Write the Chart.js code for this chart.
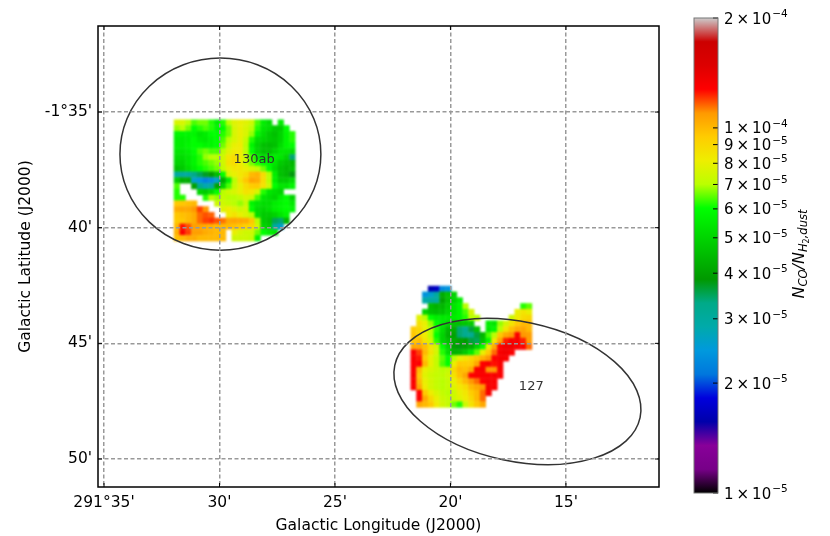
<!DOCTYPE html>
<html>
<head>
<meta charset="utf-8">
<style>
  html, body { margin: 0; padding: 0; background: #fff; }
  #map { position: absolute; left: 0; top: 0; }
  #bar { position: absolute; left: 680px; top: 0; }
</style>
<script src="https://cdn.jsdelivr.net/npm/chart.js@4"></script>
</head>
<body>
<canvas id="map" width="830" height="536"></canvas>
<canvas id="bar" width="150" height="536"></canvas>
<script>
// Axis ticks (minutes of arc: longitude 291 deg + x, latitude -1 deg - y)
const lonTicks = [35, 30, 25, 20, 15];
const lonLabels = ["291°35'", "30'", "25'", "20'", "15'"];
const latTicks = [35, 40, 45, 50];
const latLabels = ["-1°35'", "40'", "45'", "50'"];

// Colorbar ticks, in units of 1e-5
const barTicks = [1, 2, 3, 4, 5, 6, 7, 8, 9, 10, 20];
const barMantissa = ['1', '2', '3', '4', '5', '6', '7', '8', '9', '1', '2'];
const barExponent = ['−5', '−5', '−5', '−5', '−5', '−5', '−5', '−5', '−5', '−4', '−4'];

// Colormap stops
const cmapPos = [0, .05, .1, .15, .2, .25, .3, .35, .4, .45, .5, .55, .6, .65, .7, .75, .8, .85, .9, .95, 1];
const cmapRed = [0, 119, 136, 0, 0, 0, 0, 0, 0, 0, 0, 0, 0, 187, 238, 255, 255, 255, 221, 204, 204];
const cmapGreen = [0, 0, 0, 0, 0, 119, 153, 170, 170, 153, 187, 221, 255, 255, 238, 204, 153, 0, 0, 0, 204];
const cmapBlue = [0, 136, 153, 170, 221, 221, 221, 170, 136, 0, 0, 0, 0, 0, 0, 0, 0, 0, 0, 0, 204];

// Regions and their labels
const regionNames = ['130ab', '127'];
const regionLon = [29.96, 17.1];
const regionLat = [36.82, 47.08];
const regionMajor = [4.35, 5.43];
const regionMinor = [4.16, 3.02];
const regionTilt = [0, 12];
const labelLon = [28.5, 16.5];
const labelLat = [37.05, 46.85];

// N_CO/N_H2 per map pixel, in units of 1e-5
const cellSize = 0.25;
const northLon = 31.97;
const northLat = 35.33;
const northRows = [
    [7.6,7.6,7.0,6.4,6.6,6.6,6.2,5.6,6.2,7.0,7.8,8.0,7.8,7.4,6.4,5.6,5.2,null,5.6,null,null],
    [6.8,7.0,6.6,6.0,6.2,6.4,6.2,5.8,6.0,6.6,7.6,8.0,7.6,7.0,6.2,5.4,5.2,4.8,4.8,6.0,null],
    [5.8,5.8,5.8,5.8,5.4,5.6,6.0,6.0,6.2,6.6,7.6,8.0,7.6,6.8,5.8,5.2,4.8,4.6,5.0,5.8,6.2],
    [5.6,5.6,5.7,6.0,5.6,5.5,5.8,6.0,6.4,7.0,7.6,8.0,7.2,6.2,5.2,5.0,4.8,4.7,5.0,5.8,6.2],
    [5.6,5.6,5.8,6.0,6.0,5.8,5.8,6.0,6.6,7.4,8.0,8.2,7.0,5.8,5.0,4.6,4.5,4.6,5.2,5.8,6.0],
    [5.4,5.4,5.6,6.0,6.4,6.6,6.4,6.4,7.0,7.8,8.2,8.2,7.0,6.0,5.0,4.6,4.6,5.0,5.4,5.4,5.2],
    [5.2,5.2,5.4,5.8,6.2,6.8,7.0,7.0,7.4,8.4,8.8,8.2,7.2,6.4,5.6,5.2,5.4,5.6,5.4,5.0,3.4],
    [5.0,5.0,5.4,5.8,6.2,6.4,6.6,6.8,7.4,8.6,8.8,8.2,7.4,6.6,6.2,6.0,5.8,5.4,4.8,4.6,4.4],
    [4.6,4.8,5.2,5.6,6.0,6.2,6.4,6.6,7.2,8.0,8.4,8.4,8.0,7.6,7.2,6.6,6.0,5.2,4.6,4.4,4.6],
    [3.0,3.0,3.0,3.3,3.5,3.7,3.9,4.5,6.0,7.6,8.0,8.4,8.8,10.0,10.2,8.8,7.0,5.6,4.6,4.4,3.8],
    [4.8,4.2,4.2,2.6,2.4,2.2,2.3,2.6,4.2,5.6,7.0,8.6,9.6,10.6,10.4,8.8,7.0,5.6,4.8,4.8,5.2],
    [6.4,null,null,4.0,3.2,2.8,3.0,4.0,5.0,6.4,7.2,8.0,8.8,9.4,9.5,8.6,7.4,6.0,5.4,5.4,5.8],
    [6.2,null,null,null,5.0,4.8,5.2,6.0,7.0,7.4,7.6,8.0,8.6,8.4,7.6,6.2,5.4,5.2,5.0,null,null],
    [6.2,6.2,null,null,null,6.2,7.0,6.8,7.2,7.0,7.0,7.2,7.6,7.4,6.4,5.4,5.2,5.0,5.6,6.0,5.0],
    [9.5,9.6,9.8,10.0,null,null,null,7.4,7.4,7.2,7.0,6.8,7.2,5.8,5.4,5.2,5.2,5.6,5.8,6.0,5.5],
    [10.4,10.5,10.5,11.0,12.0,11.0,null,null,7.8,8.2,7.8,7.4,7.6,6.0,5.2,5.0,5.2,5.6,5.8,6.0,5.8],
    [9.6,9.8,10.0,10.4,11.5,11.8,11.6,null,null,8.2,8.6,8.0,7.6,7.0,5.2,4.8,4.8,5.0,5.4,5.8,null],
    [9.5,9.6,10.0,10.4,11.5,12.0,12.2,11.8,11.4,10.5,10.6,10.5,10.4,9.6,7.0,4.8,4.6,3.5,3.4,4.4,null],
    [10.0,12.6,11.8,10.8,10.6,10.4,10.2,10.0,10.0,10.0,9.8,9.6,9.2,9.0,7.5,5.0,4.8,3.0,2.6,null,null],
    [10.2,13.0,12.0,10.8,10.8,10.4,10.2,10.0,10.0,null,8.0,7.6,7.4,7.4,6.6,6.0,5.6,5.4,null,null,null],
    [9.8,10.0,10.4,10.4,10.0,10.0,10.0,10.0,10.0,null,7.4,7.4,7.4,7.2,5.8,null,null,null,null,null,null]
];
const southLon = 21.72;
const southLat = 42.52;
const southRows = [
    [null,null,null,1.6,1.7,2.3,2.4,null,null,null,null,null,null,null,null,null,null,null,null,null,null],
    [null,null,2.4,2.6,3.0,4.2,4.6,5.0,null,null,null,null,null,null,null,null,null,null,null,null,null],
    [null,null,2.9,3.0,3.0,4.0,4.6,5.0,5.6,null,null,null,null,null,null,null,null,null,null,null,null],
    [null,null,null,4.5,4.3,4.4,4.8,5.4,5.8,7.0,null,null,null,null,null,null,null,null,null,6.2,6.5],
    [null,null,5.0,4.6,4.5,4.6,5.0,5.4,5.8,6.4,7.5,null,null,null,null,null,null,null,8.0,8.5,8.0],
    [null,7.8,7.0,6.0,5.6,5.5,5.5,5.6,5.8,6.2,7.0,7.0,null,null,null,null,null,7.4,8.2,8.8,9.0],
    [null,8.6,8.0,6.8,6.0,5.4,5.0,4.6,4.6,4.7,4.8,null,null,5.6,5.4,6.8,7.5,8.5,9.5,10.0,10.0],
    [9.4,9.0,8.0,7.0,6.2,5.2,4.4,4.2,3.4,3.2,3.6,4.6,null,5.5,5.8,7.0,8.5,9.8,10.5,10.6,10.0],
    [9.6,9.0,8.2,7.0,6.0,5.0,4.3,4.0,3.4,3.2,3.2,3.6,4.4,6.4,7.0,9.6,10.5,11.0,13.0,11.0,10.8],
    [9.6,9.8,8.5,7.5,6.2,5.0,4.6,4.2,4.0,3.9,3.6,3.5,4.6,5.8,8.4,10.6,12.4,13.2,13.2,12.4,10.8],
    [10.5,10.5,9.8,8.5,7.5,6.0,5.0,4.0,3.8,4.0,4.2,5.0,6.0,8.0,10.5,12.8,13.5,13.5,13.0,12.8,11.5],
    [13.0,12.0,10.0,8.5,7.5,6.2,5.2,4.3,4.4,4.8,5.5,6.5,8.0,9.5,11.5,13.2,13.5,13.0,null,null,null],
    [13.0,12.5,9.5,8.0,7.2,6.5,6.0,7.0,8.0,8.5,9.0,9.6,10.2,11.0,12.8,13.2,13.0,null,null,null,null],
    [12.8,13.0,10.0,8.0,7.2,6.4,6.0,8.2,9.5,9.4,9.5,10.5,12.8,13.2,12.6,13.0,null,null,null,null,null],
    [13.0,10.0,8.0,7.6,7.3,7.0,7.2,9.0,10.0,9.8,10.5,13.0,13.2,11.0,11.0,13.0,null,null,null,null,null],
    [13.2,9.6,7.8,7.4,7.2,7.1,7.4,8.6,9.8,10.6,12.8,13.0,13.0,13.0,13.2,13.0,null,null,null,null,null],
    [13.0,10.0,8.0,7.5,7.2,7.0,7.2,8.0,9.0,10.0,11.0,11.5,12.8,13.2,13.0,null,null,null,null,null,null],
    [13.0,10.5,8.2,7.5,7.2,7.0,7.2,7.8,8.4,8.8,10.0,10.5,11.0,13.3,13.0,null,null,null,null,null,null],
    [null,12.8,9.5,8.2,7.6,7.2,7.0,7.4,8.0,8.4,9.4,10.0,11.5,13.2,null,null,null,null,null,null,null],
    [null,13.0,10.5,9.0,8.0,7.4,7.2,7.4,7.8,8.2,9.0,10.0,11.5,null,null,null,null,null,null,null,null],
    [null,10.5,10.0,9.5,8.2,7.5,7.2,6.6,6.2,7.4,8.6,9.6,10.5,null,null,null,null,null,null,null,null]
];

const font = 'DejaVu Sans';

// log scale from 1e-5 to 2e-4 onto the colormap
function cellColor(v) {
    const t = Math.log(v) / Math.log(20);
    let i = 0;
    while (i < cmapPos.length - 2 && t > cmapPos[i + 1]) i++;
    const f = (t - cmapPos[i]) / (cmapPos[i + 1] - cmapPos[i]);
    const r = cmapRed[i] + (cmapRed[i + 1] - cmapRed[i]) * f;
    const g = cmapGreen[i] + (cmapGreen[i + 1] - cmapGreen[i]) * f;
    const b = cmapBlue[i] + (cmapBlue[i + 1] - cmapBlue[i]) * f;
    return `rgb(${Math.round(r)},${Math.round(g)},${Math.round(b)})`;
}

function cellsFrom(rows, lon, lat) {
    const cells = [];
    rows.forEach((row, j) => {
        row.forEach((v, i) => {
            if (v !== null) {
                cells.push({ x: lon - (i + 0.5) * cellSize, y: lat + (j + 0.5) * cellSize, v: v });
            }
        });
    });
    return cells;
}

function cellDataset(rows, lon, lat) {
    return {
        data: cellsFrom(rows, lon, lat),
        pointStyle: 'rect',
        borderWidth: 0,
        backgroundColor: ctx => cellColor(ctx.raw.v),
        pointRadius: ctx => {
            const s = ctx.chart.scales.x;
            return Math.abs(s.getPixelForValue(0) - s.getPixelForValue(cellSize)) / Math.SQRT2 + 0.3;
        }
    };
}

// the map image is interpolated in the original, so soften the drawn cells
const smoothCells = {
    id: 'smoothCells',
    afterDatasetsDraw(chart) {
        const c = chart.ctx, a = chart.chartArea;
        const copy = document.createElement('canvas');
        copy.width = chart.width;
        copy.height = chart.height;
        copy.getContext('2d').drawImage(chart.canvas, 0, 0);
        c.save();
        c.beginPath();
        c.rect(a.left, a.top, a.right - a.left, a.bottom - a.top);
        c.clip();
        c.clearRect(a.left, a.top, a.right - a.left, a.bottom - a.top);
        c.filter = 'blur(0.8px)';
        c.drawImage(copy, 0, 0);
        c.restore();
    }
};

// short ticks pointing into the frame, then the frame itself
const mapFrame = {
    id: 'mapFrame',
    afterDraw(chart) {
        const c = chart.ctx, a = chart.chartArea;
        c.save();
        c.strokeStyle = '#000';
        c.lineWidth = 1;
        c.beginPath();
        chart.scales.x.ticks.forEach(t => {
            const p = chart.scales.x.getPixelForValue(t.value);
            c.moveTo(p, a.bottom); c.lineTo(p, a.bottom - 4);
            c.moveTo(p, a.top); c.lineTo(p, a.top + 4);
        });
        chart.scales.y.ticks.forEach(t => {
            const p = chart.scales.y.getPixelForValue(t.value);
            c.moveTo(a.left, p); c.lineTo(a.left + 4, p);
            c.moveTo(a.right, p); c.lineTo(a.right - 4, p);
        });
        c.stroke();
        c.lineWidth = 1.5;
        c.strokeRect(a.left, a.top, a.right - a.left, a.bottom - a.top);
        c.restore();
    }
};

// region outlines and names, placed through the scales
const regions = {
    id: 'regions',
    afterDatasetsDraw(chart) {
        const c = chart.ctx, sx = chart.scales.x, sy = chart.scales.y;
        const pxPerMin = Math.abs(sx.getPixelForValue(0) - sx.getPixelForValue(1));
        c.save();
        regionNames.forEach((name, i) => {
            c.strokeStyle = '#333';
            c.lineWidth = 1.5;
            c.beginPath();
            c.ellipse(sx.getPixelForValue(regionLon[i]), sy.getPixelForValue(regionLat[i]),
                regionMajor[i] * pxPerMin, regionMinor[i] * pxPerMin,
                regionTilt[i] * Math.PI / 180, 0, 2 * Math.PI);
            c.stroke();
            c.fillStyle = '#333';
            c.font = '13px "' + font + '"';
            c.textAlign = 'center';
            c.textBaseline = 'middle';
            c.fillText(name, sx.getPixelForValue(labelLon[i]), sy.getPixelForValue(labelLat[i]));
        });
        c.restore();
    }
};

new Chart(document.getElementById('map'), {
    type: 'scatter',
    data: {
        datasets: [
            cellDataset(northRows, northLon, northLat),
            cellDataset(southRows, southLon, southLat)
        ]
    },
    plugins: [smoothCells, regions, mapFrame],
    options: {
        responsive: false,
        animation: false,
        events: [],
        layout: { padding: { left: 0, right: 171, top: 26, bottom: 0 } },
        plugins: { legend: { display: false }, tooltip: { enabled: false } },
        scales: {
            x: {
                type: 'linear',
                reverse: true,
                min: 10.97,
                max: 35.26,
                afterBuildTicks: s => { s.ticks = lonTicks.map(v => ({ value: v })); },
                afterFit: s => { s.height = 49; },
                grid: { color: '#999', lineWidth: 1.5, z: 1, drawTicks: false },
                border: { display: false, dash: [4, 2.5] },
                ticks: {
                    color: '#000',
                    font: { family: font, size: 15.5 },
                    padding: 7,
                    maxRotation: 0,
                    autoSkip: false,
                    callback: v => lonLabels[lonTicks.indexOf(v)]
                },
                title: {
                    display: true,
                    text: 'Galactic Longitude (J2000)',
                    color: '#000',
                    font: { family: font, size: 15.5 },
                    padding: { top: 0, bottom: 1 }
                }
            },
            y: {
                type: 'linear',
                reverse: true,
                min: 31.28,
                max: 51.21,
                afterBuildTicks: s => { s.ticks = latTicks.map(v => ({ value: v })); },
                afterFit: s => { s.width = 98; },
                grid: { color: '#999', lineWidth: 1.5, z: 1, drawTicks: false },
                border: { display: false, dash: [4, 2.5] },
                ticks: {
                    color: '#000',
                    font: { family: font, size: 15.5 },
                    padding: 6,
                    autoSkip: false,
                    callback: v => latLabels[latTicks.indexOf(v)]
                },
                title: {
                    display: true,
                    text: 'Galactic Latitude (J2000)',
                    color: '#000',
                    font: { family: font, size: 15.5 },
                    padding: { top: 17, bottom: 0 }
                }
            }
        }
    }
});

// colorbar: one floating bar with the colormap as gradient
const barDressing = {
    id: 'barDressing',
    afterDraw(chart) {
        const c = chart.ctx, a = chart.chartArea, sy = chart.scales.y;
        c.save();
        c.strokeStyle = '#000';
        c.lineWidth = 1;
        c.beginPath();
        sy.ticks.forEach(t => {
            const p = sy.getPixelForValue(t.value);
            c.moveTo(a.right, p); c.lineTo(a.right - 5, p);
        });
        c.stroke();
        c.strokeStyle = '#777';
        c.strokeRect(a.left, a.top, a.right - a.left, a.bottom - a.top);
        // tick labels with raised exponents
        c.fillStyle = '#000';
        c.textBaseline = 'alphabetic';
        c.textAlign = 'left';
        barTicks.forEach((v, i) => {
            const p = sy.getPixelForValue(v);
            const text = barMantissa[i] + '\u2009×\u200910';
            c.font = '15px "' + font + '"';
            c.fillText(text, a.right + 6, p + 5.5);
            const w = c.measureText(text).width;
            c.font = '10.5px "' + font + '"';
            c.fillText(barExponent[i], a.right + 6 + w + 1, p - 1);
        });
        // axis title with subscripts
        c.translate(124, 254);
        c.rotate(-Math.PI / 2);
        const parts = [['N', 16, 0], ['CO', 11.5, 3], ['/N', 16, 0], ['H', 11.5, 3], ['2', 8, 5], [',dust', 11.5, 3]];
        let width = 0;
        parts.forEach(p => {
            c.font = 'italic ' + p[1] + 'px "' + font + '"';
            width += c.measureText(p[0]).width;
        });
        let x = -width / 2;
        parts.forEach(p => {
            c.font = (p[0] === '2' ? '' : 'italic ') + p[1] + 'px "' + font + '"';
            c.fillText(p[0], x, p[2]);
            x += c.measureText(p[0]).width;
        });
        c.restore();
    }
};

new Chart(document.getElementById('bar'), {
    type: 'bar',
    data: {
        labels: ['ratio'],
        datasets: [{
            data: [[barTicks[0], barTicks[barTicks.length - 1]]],
            barPercentage: 1,
            categoryPercentage: 1,
            borderWidth: 0,
            backgroundColor: ctx => {
                const a = ctx.chart.chartArea;
                if (!a) return '#000';
                const g = ctx.chart.ctx.createLinearGradient(0, a.bottom, 0, a.top);
                cmapPos.forEach((t, i) => {
                    g.addColorStop(t, `rgb(${cmapRed[i]},${cmapGreen[i]},${cmapBlue[i]})`);
                });
                return g;
            }
        }]
    },
    plugins: [barDressing],
    options: {
        responsive: false,
        animation: false,
        events: [],
        layout: { padding: { left: 14, right: 0, top: 18, bottom: 43 } },
        plugins: { legend: { display: false }, tooltip: { enabled: false } },
        scales: {
            x: { display: false },
            y: {
                type: 'logarithmic',
                position: 'right',
                min: 1,
                max: 20,
                afterBuildTicks: s => { s.ticks = barTicks.map(v => ({ value: v })); },
                afterFit: s => { s.width = 112; },
                grid: { display: false },
                border: { display: false },
                ticks: { display: false }
            }
        }
    }
});
</script>
</body>
</html>
